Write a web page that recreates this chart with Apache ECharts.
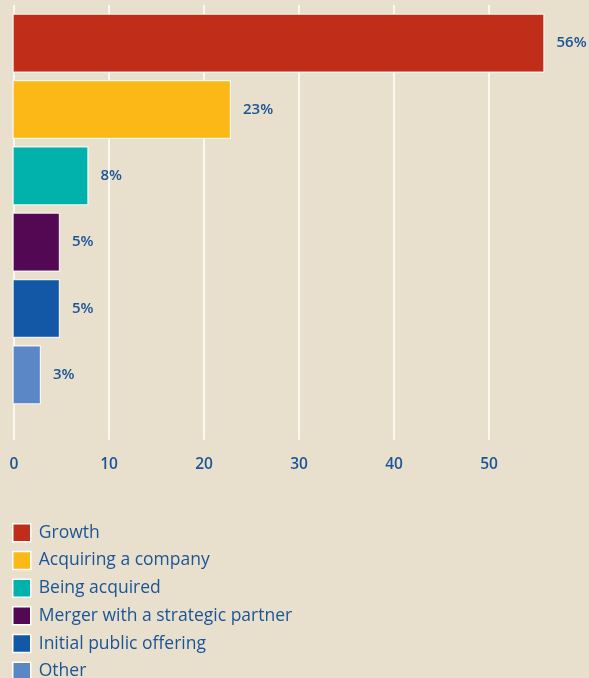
<!DOCTYPE html>
<html>
<head>
<meta charset="utf-8">
<script src="https://cdn.jsdelivr.net/npm/echarts@6/dist/echarts.min.js"></script>
<style>
  html, body { margin: 0; padding: 0; background: #e8dfcd; }
  #chart { width: 589px; height: 678px; }
</style>
</head>
<body>
<div id="chart"></div>
<script>
// Outcomes, share of respondents (%)
const categories = ['Growth', 'Acquiring a company', 'Being acquired', 'Merger with a strategic partner', 'Initial public offering', 'Other'];
const values = [56, 23, 8, 5, 5, 3];
const colors = ['#c02e1a', '#fbb817', '#00b1ac', '#530853', '#1258a7', '#5b87c6'];
const tickValues = [0, 10, 20, 30, 40, 50];

const textBlue = '#1b5596';
const font = '"Open Sans", "Noto Sans", sans-serif';

// One series per category so each gets its own legend entry; stacking keeps
// every bar centred in its own row.
const series = categories.map((name, i) => ({
  name: name,
  type: 'bar',
  stack: 'all',
  xAxisIndex: 1,
  yAxisIndex: 1,
  barWidth: 59,
  data: categories.map((c, j) => (j === i ? values[i] : null)),
  itemStyle: { color: colors[i], borderColor: 'rgba(255,255,255,0.85)', borderWidth: 1.2 },
  label: {
    show: true,
    position: 'right',
    distance: 12,
    formatter: p => p.value + '%',
    color: textBlue,
    fontFamily: font,
    fontSize: 15,
    fontWeight: 600
  },
  z: 3
}));

const chart = echarts.init(document.getElementById('chart'), null, { renderer: 'canvas' });
chart.setOption({
  backgroundColor: '#e8dfcd',
  animation: false,
  grid: [
    // gridlines and tick labels
    { left: 14, top: 5, width: 475, height: 435, containLabel: false },
    // bars
    { left: 12.5, top: 10, width: 570, height: 398, containLabel: false }
  ],
  xAxis: [
    {
      gridIndex: 0, type: 'value', min: tickValues[0], max: tickValues[tickValues.length - 1], interval: 10,
      axisLine: { show: false }, axisTick: { show: false },
      splitLine: { show: true, lineStyle: { color: '#fbf8f2', width: 2 } },
      axisLabel: { color: textBlue, fontFamily: font, fontSize: 15.5, fontWeight: 600, margin: 17 }
    },
    {
      gridIndex: 1, type: 'value', min: 0, max: 60,
      show: false, splitLine: { show: false }
    }
  ],
  yAxis: [
    { gridIndex: 0, type: 'value', show: false, splitLine: { show: false } },
    {
      gridIndex: 1, type: 'category', data: categories, inverse: true,
      show: false
    }
  ],
  legend: {
    orient: 'vertical',
    left: 12,
    top: 523,
    height: 300,
    padding: 0,
    itemWidth: 18,
    itemHeight: 18,
    itemGap: 8.2,
    icon: 'rect',
    data: categories,
    textStyle: { color: textBlue, fontFamily: font, fontSize: 17.5, fontWeight: 500, lineHeight: 18, padding: [0, 0, 0, 3] },
    itemStyle: { borderColor: '#ffffff', borderWidth: 1.5 }
  },
  series: series
});
</script>
</body>
</html>
